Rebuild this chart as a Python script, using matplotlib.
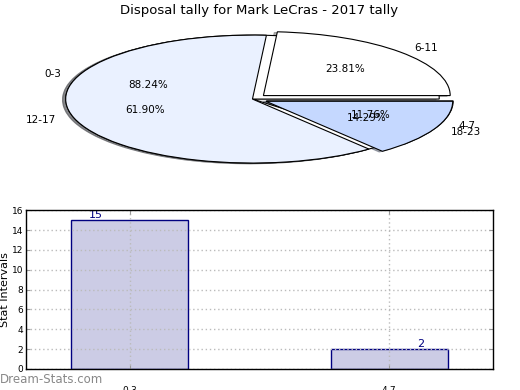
import matplotlib
matplotlib.use("Agg")
import matplotlib.pyplot as plt

title = "Disposal tally for Mark LeCras - 2017 tally"

# pie 1 (drawn underneath)
pie1_labels = ["0-3", "4-7"]
pie1_values = [15, 2]
# pie 2 (drawn on top)
pie2_labels = ["6-11", "12-17", "18-23"]
pie2_values = [5, 13, 3]

# bar chart
bar_labels = ["0-3", "4-7"]
bar_values = [15, 2]

fig = plt.figure(figsize=(5.2, 3.9), dpi=100)

# ---- pie ----
axp = fig.add_axes([0.0365, 0.541, 0.898, 0.41])
pie_colors1 = ["#FFFFFF", "#EAF1FF"]
pie_colors2 = ["#FFFFFF", "#EAF1FF", "#C5D8FF"]
shadow = dict(ox=-0.012, oy=-0.008, shade=0.6)
axp.pie(pie1_values, labels=pie1_labels, colors=pie_colors1,
        autopct="%.2f%%", explode=(0, 0.08), shadow=shadow,
        wedgeprops=dict(edgecolor="black", linewidth=0.8),
        textprops=dict(fontsize=7.5))
axp.pie(pie2_values, labels=pie2_labels, colors=pie_colors2,
        autopct="%.2f%%", explode=(0.08, 0, 0.08), shadow=shadow,
        wedgeprops=dict(edgecolor="black", linewidth=0.8),
        textprops=dict(fontsize=7.5))
axp.set_aspect("auto")
axp.set_xlim(-1.25, 1.25)
axp.set_ylim(-1.25, 1.25)
axp.axis("off")

fig.text(0.498, 0.973, title, ha="center", va="center", fontsize=9.5)

# ---- bars ----
axb = fig.add_axes([0.05, 0.054, 0.898, 0.407])
x = list(range(len(bar_values)))
axb.bar(x, bar_values, width=0.45, color="#CCCCE5", edgecolor="#000080",
        linewidth=1.0, zorder=1)
axb.set_axisbelow(False)
axb.set_xlim(-0.4, len(bar_values) - 0.6)
axb.set_ylim(0, 16)
axb.set_yticks(range(0, 17, 2))
axb.set_xticks(x)
axb.set_xticklabels(bar_labels)
axb.tick_params(axis="both", direction="in", labelsize=6.5, length=3,
                top=True, right=True, color="#999999")
axb.tick_params(axis="y", pad=2)
axb.tick_params(axis="x", pad=12.5)
axb.grid(True, linestyle=(0, (1, 2)), color="#BBBBBB", linewidth=1.0,
         zorder=3)
axb.set_ylabel("Stat Intervals", fontsize=8, labelpad=1)
for i, v in enumerate(bar_values):
    off = -0.13 if i == 0 else 0.12
    axb.text(i + off, v, str(v), ha="center", va="bottom", fontsize=8,
             color="#000080", zorder=4)
for s in axb.spines.values():
    s.set_linewidth(1.0)
    s.set_zorder(5)

fig.text(0.0, 0.026, "Dream-Stats.com", ha="left", va="center",
         fontsize=8.5, color="#888888")

fig.savefig("out.png", dpi=100)
